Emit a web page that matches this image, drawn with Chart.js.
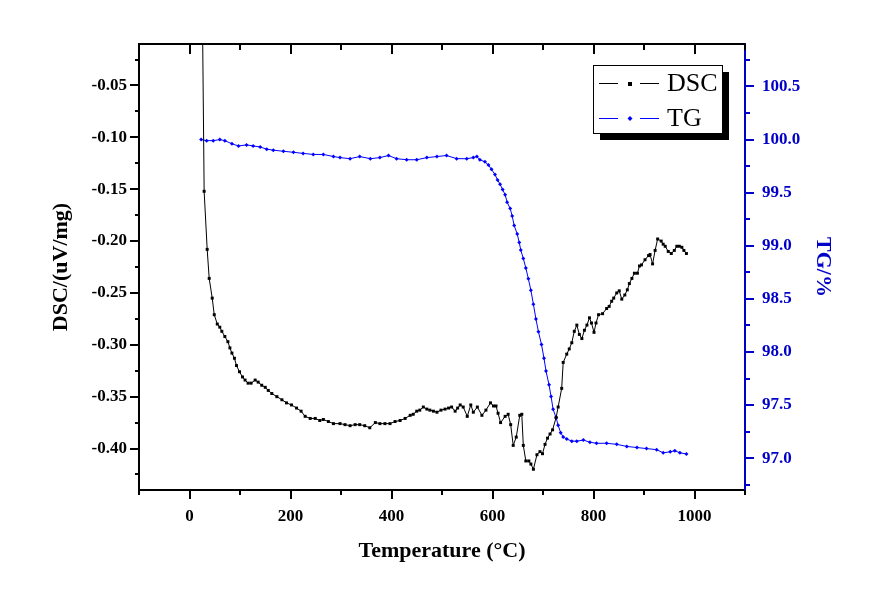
<!DOCTYPE html>
<html><head><meta charset="utf-8">
<script src="https://cdn.jsdelivr.net/npm/chart.js@4.4.1/dist/chart.umd.min.js"></script>
<style>html,body{margin:0;padding:0;background:#fff}#wrap{width:882px;height:611px}</style>
</head><body><div id="wrap"><canvas id="c" width="882" height="611"></canvas></div>
<script>
// ---- data ----
const dscTemps = [24,29,35,39,45,49,55,60,64,70,76,80,84,89,93,99,105,110,116,122,130,136,143,150,156,163,173,183,192,202,212,221,229,239,249,258,265,275,285,298,308,318,328,337,347,357,368,377,387,397,407,417,427,437,443,450,456,463,470,476,483,490,498,506,513,519,526,531,536,542,550,557,562,570,579,587,596,602,607,611,616,625,631,636,641,647,654,658,661,666,672,676,681,688,694,699,704,709,714,719,726,730,737,740,747,752,757,762,767,772,777,782,787,792,796,801,805,810,818,826,831,836,840,846,851,856,862,867,871,876,881,887,891,895,902,909,912,917,922,927,934,938,942,948,954,960,965,970,975,979,984];
const dscValues = [0.10,-0.152,-0.208,-0.236,-0.255,-0.271,-0.280,-0.283,-0.287,-0.292,-0.297,-0.303,-0.308,-0.313,-0.320,-0.326,-0.331,-0.334,-0.337,-0.337,-0.334,-0.336,-0.339,-0.341,-0.344,-0.347,-0.350,-0.353,-0.356,-0.358,-0.361,-0.364,-0.369,-0.371,-0.371,-0.373,-0.372,-0.374,-0.376,-0.376,-0.377,-0.378,-0.377,-0.377,-0.378,-0.380,-0.375,-0.376,-0.376,-0.376,-0.374,-0.373,-0.371,-0.368,-0.367,-0.364,-0.363,-0.360,-0.362,-0.363,-0.364,-0.365,-0.363,-0.362,-0.361,-0.360,-0.364,-0.361,-0.358,-0.360,-0.369,-0.358,-0.365,-0.360,-0.368,-0.363,-0.356,-0.359,-0.359,-0.366,-0.375,-0.369,-0.367,-0.377,-0.397,-0.389,-0.368,-0.367,-0.397,-0.412,-0.412,-0.415,-0.420,-0.406,-0.403,-0.405,-0.396,-0.390,-0.386,-0.382,-0.370,-0.360,-0.342,-0.317,-0.309,-0.304,-0.298,-0.287,-0.281,-0.290,-0.294,-0.286,-0.281,-0.274,-0.279,-0.288,-0.279,-0.271,-0.270,-0.265,-0.263,-0.258,-0.255,-0.250,-0.248,-0.256,-0.252,-0.247,-0.241,-0.236,-0.231,-0.231,-0.224,-0.223,-0.218,-0.214,-0.213,-0.222,-0.209,-0.198,-0.200,-0.203,-0.205,-0.210,-0.212,-0.209,-0.205,-0.205,-0.206,-0.209,-0.212];
const tgTemps = [23,34,47,60,70,84,97,113,126,140,153,166,186,206,225,245,265,285,298,318,337,358,377,394,410,430,450,470,490,509,529,549,562,569,575,585,592,598,605,610,615,620,625,629,635,639,643,649,653,656,661,666,671,676,681,686,691,697,702,706,712,716,720,726,730,735,740,747,757,767,780,793,806,826,846,866,886,905,925,938,952,961,971,984];
const tgValues = [100.00,99.99,99.99,100.00,99.99,99.96,99.94,99.95,99.94,99.93,99.91,99.90,99.89,99.88,99.87,99.86,99.86,99.84,99.83,99.82,99.84,99.82,99.83,99.85,99.82,99.81,99.81,99.83,99.84,99.85,99.82,99.82,99.83,99.84,99.81,99.79,99.76,99.72,99.67,99.62,99.58,99.53,99.48,99.41,99.35,99.28,99.19,99.11,99.03,98.96,98.88,98.79,98.69,98.58,98.45,98.31,98.19,98.07,97.94,97.82,97.69,97.58,97.46,97.38,97.31,97.24,97.20,97.18,97.16,97.16,97.17,97.15,97.14,97.14,97.13,97.11,97.10,97.09,97.08,97.05,97.06,97.07,97.05,97.04];
const xTickLabels = ['0','200','400','600','800','1000'];
const dscTickLabels = ['-0.40','-0.35','-0.30','-0.25','-0.20','-0.15','-0.10','-0.05'];
const tgTickLabels = ['97.0','97.5','98.0','98.5','99.0','99.5','100.0','100.5'];
const seriesNames = ['DSC','TG'];

const SERIF = "'Liberation Serif','Times New Roman',serif";
const AXIS_BLUE = '#0000c8';

const framePlugin = {
  id: 'frame',
  afterDraw(chart) {
    const ctx = chart.ctx, a = chart.chartArea;
    const xs = chart.scales.x, ys = chart.scales.y, y1 = chart.scales.y1;
    ctx.save();
    ctx.lineWidth = 2; ctx.lineCap = 'butt';
    ctx.strokeStyle = '#000';
    ctx.beginPath(); ctx.moveTo(a.left - 1, a.top); ctx.lineTo(a.right, a.top); ctx.stroke();
    for (let i = -1; i <= 11; i++) {
      const px = Math.round(xs.getPixelForValue(i * 100));
      const major = i % 2 === 0;
      ctx.beginPath();
      ctx.moveTo(px, a.top); ctx.lineTo(px, a.top + (major ? 10 : 6));
      ctx.moveTo(px, a.bottom); ctx.lineTo(px, a.bottom + (major ? 9 : 5));
      ctx.stroke();
    }
    for (let i = -17; i <= -1; i++) {
      const py = Math.round(ys.getPixelForValue(i * 0.025));
      const major = i % 2 === 0;
      ctx.beginPath(); ctx.moveTo(a.left, py); ctx.lineTo(a.left - (major ? 9 : 4), py); ctx.stroke();
    }
    ctx.strokeStyle = AXIS_BLUE;
    for (let i = 387; i <= 403; i++) {
      const py = Math.round(y1.getPixelForValue(i * 0.25));
      const major = i % 2 === 0;
      ctx.beginPath(); ctx.moveTo(a.right, py); ctx.lineTo(a.right + (major ? 9 : 5), py); ctx.stroke();
    }
    // legend
    const bx = 593, by = 65, bw = 129, bh = 68;
    ctx.fillStyle = '#000';
    ctx.fillRect(bx + 7, by + 7, bw, bh);
    ctx.fillStyle = '#fff';
    ctx.fillRect(bx, by, bw, bh);
    ctx.lineWidth = 1; ctx.strokeStyle = '#000';
    ctx.strokeRect(bx + 0.5, by + 0.5, bw, bh);
    chart.data.datasets.forEach((ds, k) => {
      const ry = by + 18 + k * 35;
      ctx.strokeStyle = ds.borderColor; ctx.lineWidth = 1;
      ctx.beginPath();
      ctx.moveTo(bx + 6, ry + 0.5); ctx.lineTo(bx + 25, ry + 0.5);
      ctx.moveTo(bx + 47, ry + 0.5); ctx.lineTo(bx + 66, ry + 0.5);
      ctx.stroke();
      ctx.fillStyle = ds.borderColor;
      if (k === 0) ctx.fillRect(bx + 35, ry - 1, 4, 4);
      else { ctx.beginPath(); ctx.moveTo(bx + 37, ry - 2); ctx.lineTo(bx + 39.5, ry + 0.5); ctx.lineTo(bx + 37, ry + 3); ctx.lineTo(bx + 34.5, ry + 0.5); ctx.closePath(); ctx.fill(); }
      ctx.fillStyle = '#000';
      ctx.font = "26px " + SERIF;
      ctx.textBaseline = 'middle'; ctx.textAlign = 'left';
      ctx.fillText(ds.label, bx + 74, ry + 1);
    });
    ctx.restore();
  }
};

const tickFont = { family: SERIF, size: 17, weight: 'bold' };
const titleFont = { family: SERIF, size: 22, weight: 'bold' };

new Chart(document.getElementById('c'), {
  type: 'line',
  data: {
    datasets: [
      {
        label: seriesNames[0], yAxisID: 'y',
        data: dscTemps.map((t, i) => ({ x: t, y: dscValues[i] })),
        borderColor: '#000', backgroundColor: '#000', borderWidth: 1,
        pointStyle: 'rect', pointRadius: 2.1, pointBorderWidth: 0, pointBackgroundColor: '#000',
        tension: 0, fill: false
      },
      {
        label: seriesNames[1], yAxisID: 'y1',
        data: tgTemps.map((t, i) => ({ x: t, y: tgValues[i] })),
        borderColor: '#0000ff', backgroundColor: '#0000ff', borderWidth: 1,
        pointStyle: 'rectRot', pointRadius: 2, pointBorderWidth: 0, pointBackgroundColor: '#0000ff',
        tension: 0, fill: false
      }
    ]
  },
  options: {
    responsive: false, animation: false, devicePixelRatio: 1,
    layout: { padding: { top: 44, left: 0, right: 0, bottom: 0 } },
    plugins: { legend: { display: false }, tooltip: { enabled: false } },
    scales: {
      x: {
        type: 'linear', position: 'bottom', min: -100, max: 1100,
        afterFit(s) { s.height = 121; },
        grid: { display: false },
        border: { display: true, color: '#000', width: 2 },
        ticks: {
          stepSize: 100, includeBounds: false, autoSkip: false, maxRotation: 0,
          padding: 8, color: '#000', font: tickFont,
          callback(v) { const s = String(Math.round(v)); return xTickLabels.includes(s) ? s : ''; }
        },
        title: { display: true, text: 'Temperature (°C)', color: '#000', font: titleFont, padding: { top: 0, bottom: 46 } }
      },
      y: {
        type: 'linear', position: 'left', min: -0.44, max: -0.01,
        afterFit(s) { s.width = 139; },
        grid: { display: false },
        border: { display: true, color: '#000', width: 2 },
        ticks: {
          stepSize: 0.05, includeBounds: false, autoSkip: false, padding: 4, color: '#000', font: tickFont,
          callback(v) { const s = (Math.round(v * 100) / 100).toFixed(2); return dscTickLabels.includes(s) ? s : ''; }
        },
        title: { display: true, text: 'DSC/(uV/mg)', color: '#000', font: titleFont, padding: { top: 48, bottom: 0 } }
      },
      y1: {
        type: 'linear', position: 'right', min: 96.7, max: 100.9,
        afterFit(s) { s.width = 137; },
        grid: { display: false },
        border: { display: true, color: AXIS_BLUE, width: 2 },
        ticks: {
          stepSize: 0.5, includeBounds: false, autoSkip: false, padding: 9, color: AXIS_BLUE, font: tickFont,
          callback(v) { const s = (Math.round(v * 10) / 10).toFixed(1); return tgTickLabels.includes(s) ? s : ''; }
        },
        title: { display: true, text: 'TG/%', color: AXIS_BLUE, font: titleFont, padding: { top: 46, bottom: 0 } }
      }
    }
  },
  plugins: [framePlugin]
});
</script>
</body></html>
